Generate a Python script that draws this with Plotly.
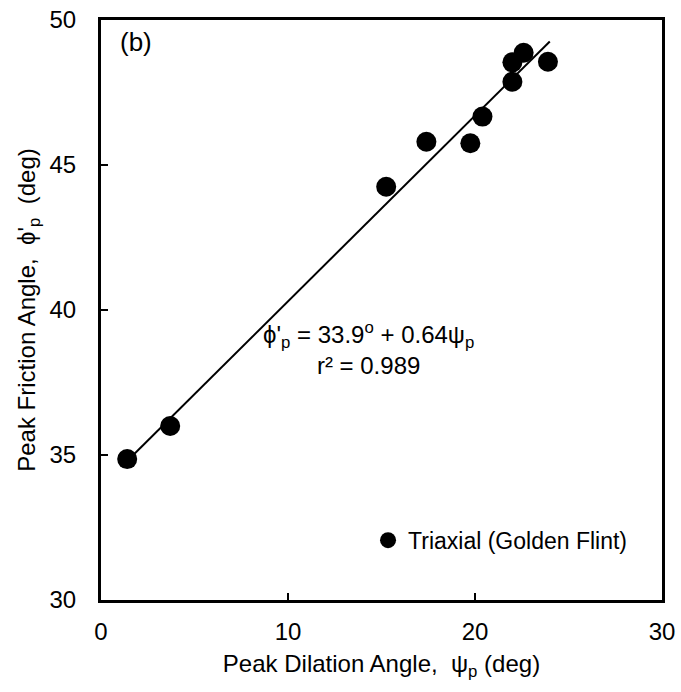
import plotly.graph_objects as go

# Data
psi_p = [1.4, 3.7, 15.25, 17.4, 19.75, 20.4, 22.0, 22.0, 22.6, 23.9]
phi_p = [34.86, 36.0, 44.25, 45.8, 45.75, 46.67, 47.87, 48.54, 48.87, 48.56]

# Regression line: phi'p = 33.9 + 0.64 psi_p
fit_intercept = 33.9
fit_slope = 0.64
fit_x = [1.4, 24.0]
fit_y = [fit_intercept + fit_slope * v for v in fit_x]

x_ticks = [0, 10, 20, 30]
y_ticks = [30, 35, 40, 45, 50]

FONT = "Liberation Sans, Arial, sans-serif"
FS = 24

fig = go.Figure()
fig.add_trace(go.Scatter(
    x=fit_x, y=fit_y, mode="lines",
    line=dict(color="black", width=2), showlegend=False, hoverinfo="skip"))
fig.add_trace(go.Scatter(
    x=psi_p, y=phi_p, mode="markers",
    marker=dict(color="black", size=20, line=dict(width=0)),
    name="Triaxial (Golden Flint)"))

axis_common = dict(
    showline=True, linecolor="black", linewidth=3, mirror=True,
    ticks="inside", ticklen=7, tickwidth=2, tickcolor="black",
    showgrid=False, zeroline=False, automargin=False,
    tickfont=dict(family=FONT, size=FS, color="black"),
)

fig.update_layout(
    width=681, height=692,
    margin=dict(l=101, r=19, t=20, b=92, autoexpand=False),
    paper_bgcolor="white", plot_bgcolor="white",
    font=dict(family=FONT, color="black"),
    xaxis=dict(range=[0, 30], tickvals=x_ticks, ticklabelstandoff=8,
               title=dict(text="Peak Dilation Angle,  ψ<sub>p</sub> (deg)",
                          font=dict(family=FONT, size=FS), standoff=12),
               **axis_common),
    yaxis=dict(range=[30, 50], tickvals=y_ticks, ticklabelstandoff=17,
               title=dict(text="Peak Friction Angle,  ϕ'<sub>p</sub>  (deg)",
                          font=dict(family=FONT, size=FS), standoff=8),
               **axis_common),
    showlegend=True,
    legend=dict(x=0.476, y=0.103, xanchor="left", yanchor="middle",
                bgcolor="rgba(0,0,0,0)", font=dict(family=FONT, size=FS - 1),
                itemwidth=30),
    annotations=[
        dict(x=0.03, y=0.962, xref="x domain", yref="y domain",
             text="(b)", showarrow=False, xanchor="left", yanchor="middle",
             font=dict(family=FONT, size=26)),
        dict(x=14.3, y=38.68, xref="x", yref="y",
             text="ϕ'<sub>p</sub> = 33.9<sup>o</sup> + 0.64ψ<sub>p</sub><br>r² = 0.989",
             showarrow=False, align="center", xanchor="center", yanchor="middle",
             font=dict(family=FONT, size=FS)),
    ],
)

fig.write_html("out.html")
